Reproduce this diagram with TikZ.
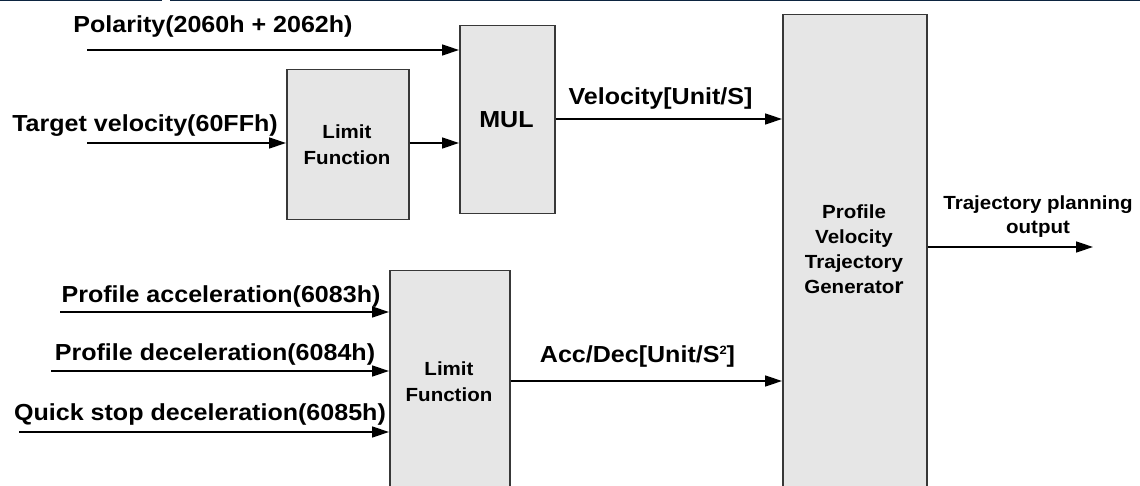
\documentclass[tikz,border=0pt]{standalone}
\usepackage{fontspec}
\setmainfont{Liberation Sans}[FakeStretch=1.08]
\usetikzlibrary{arrows.meta}
\definecolor{boxfill}{HTML}{E6E6E6}
\definecolor{boxline}{HTML}{383838}
\definecolor{topbar}{HTML}{0C2440}
\tikzset{
  box/.style={draw=boxline, fill=boxfill, line width=1.5pt, inner sep=0pt, anchor=north west},
  sig/.style={line width=1.4pt, -{Triangle[length=17pt,width=11pt]}},
  big/.style={font=\fontsize{23.2}{26}\selectfont\bfseries, inner sep=0pt},
  small/.style={font=\fontsize{19}{26}\selectfont\bfseries, align=center, inner sep=0pt},
}
\begin{document}
\begin{tikzpicture}[x=1pt,y=-1pt]
\useasboundingbox (0,0) rectangle (1140,486);
\clip (0,0) rectangle (1140,486);
% top bar
\draw[topbar, line width=2pt] (0,0) -- (162,0) (170,0) -- (1140,0);
% boxes
\node[box, minimum width=122pt, minimum height=150pt] (lim1) at (286,69) {};
\node[small] (lim1t) at (347,145) {Limit\\Function};
\node[box, minimum width=95pt, minimum height=188pt] (mul) at (459,25) {};
\node[big] (mult) at (506.5,120) {MUL};
\node[box, minimum width=120pt, minimum height=230pt] (lim2) at (389,270) {};
\node[small, text depth=0pt] (lim2t) at (449,382) {Limit\\Function};
\node[box, minimum width=144pt, minimum height=500pt] (prof) at (782,14) {};
\node[small, font=\fontsize{19}{25}\selectfont\bfseries] (proft) at (854,249) {Profile\\Velocity\\Trajectory\\Generato{\fontsize{22}{25}\selectfont r}};
% input coordinates
\coordinate (pin) at (87,50);
\coordinate (tin) at (87,143);
\coordinate (ain) at (60,312);
\coordinate (din) at (51,371);
\coordinate (qin) at (19,432);
\coordinate (outend) at (1093,247);
% connectors
\draw[sig] (pin) -- (pin -| mul.west);
\draw[sig] (tin) -- (tin -| lim1.west);
\draw[sig] (lim1.east |- 0,143) -- (mul.west |- 0,143);
\draw[sig] (mul.east |- 0,119) -- (prof.west |- 0,119);
\draw[sig] (ain) -- (ain -| lim2.west);
\draw[sig] (din) -- (din -| lim2.west);
\draw[sig] (qin) -- (qin -| lim2.west);
\draw[sig] (lim2.east |- 0,381) -- (prof.west |- 0,381);
\draw[sig] (prof.east |- outend) -- (outend);
% labels
\node[big, anchor=base] (lp) at (213,33) {Polarity(2060h + 2062h)};
\node[big, anchor=base] (lt) at (145,132) {Target velocity(60FFh)};
\node[big, anchor=base] (lv) at (660.5,105) {Velocity[Unit/S]};
\node[big, anchor=base] (lad) at (637.5,362) {Acc/Dec[Unit/S\raisebox{8pt}{\fontsize{12}{12}\selectfont 2}]};
\node[big, anchor=base] (la) at (221,302) {Profile acceleration(6083h)};
\node[big, anchor=base] (ld) at (215,360) {Profile deceleration(6084h)};
\node[big, anchor=base] (lq) at (200,420) {Quick stop deceleration(6085h)};
\node[small, font=\fontsize{19}{24}\selectfont\bfseries] (lo) at (1038,217) {Trajectory planning\\output};
\end{tikzpicture}
\end{document}
